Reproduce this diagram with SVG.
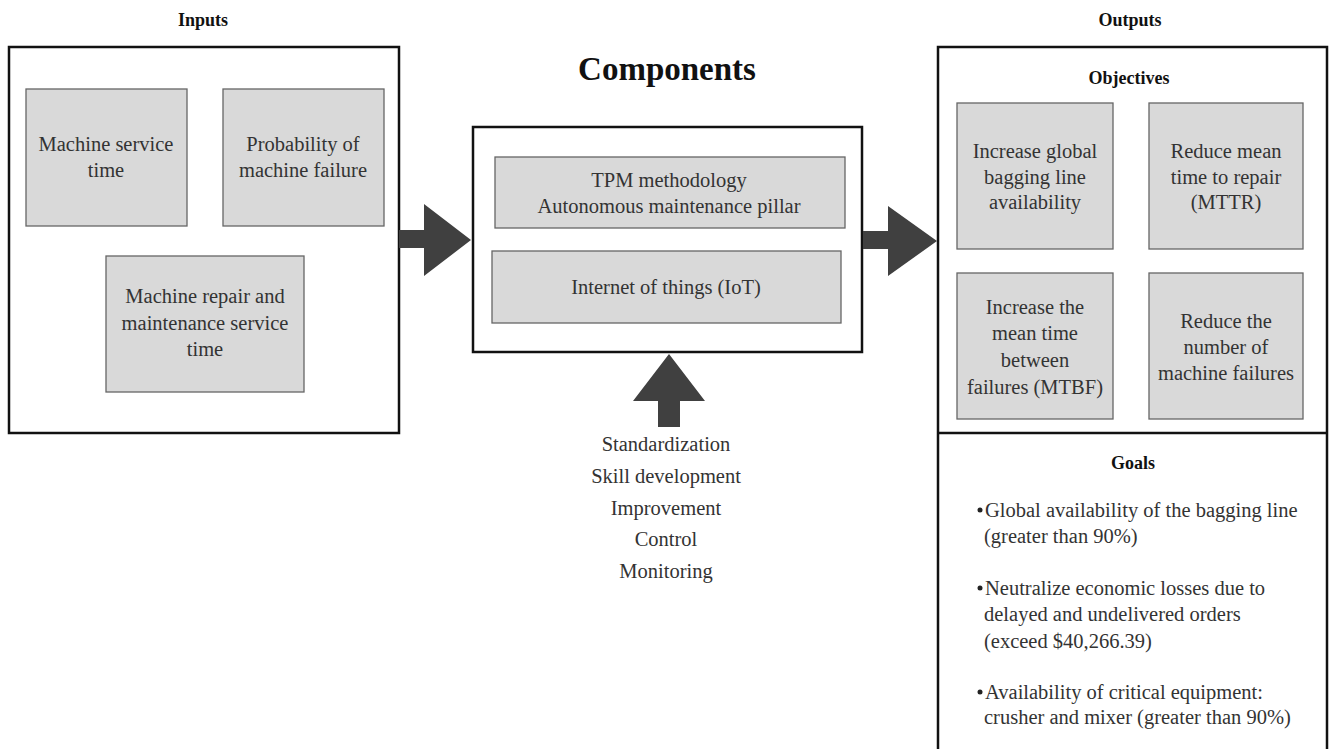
<svg xmlns="http://www.w3.org/2000/svg" width="1329" height="749" viewBox="0 0 1329 749">
<style>
text{font-family:"Liberation Serif","Times New Roman",serif;fill:#333}
.hd{font-weight:bold;font-size:18px;fill:#111;text-anchor:middle}
.title{font-weight:bold;font-size:33px;fill:#111;text-anchor:middle}
.t{font-size:20.5px;text-anchor:middle}
.g{font-size:20.5px}
.outer{fill:#fff;stroke:#111;stroke-width:2.5}
.box{fill:#d9d9d9;stroke:#666;stroke-width:1.3}
.arr{fill:#404040}
</style>
<rect width="1329" height="749" fill="#fff"/>
<g id="inputs">
<text class="hd" x="203" y="26">Inputs</text>
<rect class="outer" x="9" y="47" width="390" height="386"/>
</g>
<g id="machine-service-time">
<rect class="box" x="26" y="89" width="161" height="137"/>
<text class="t" x="106" y="151">Machine service</text>
<text class="t" x="106" y="177">time</text>
</g>
<g id="probability-failure">
<rect class="box" x="223" y="89" width="161" height="137"/>
<text class="t" x="303" y="151">Probability of</text>
<text class="t" x="303" y="177">machine failure</text>
</g>
<g id="repair-time">
<rect class="box" x="106" y="256" width="198" height="136"/>
<text class="t" x="205" y="303">Machine repair and</text>
<text class="t" x="205" y="330">maintenance service</text>
<text class="t" x="205" y="356">time</text>
</g>
<g id="components">
<text class="title" x="667" y="80">Components</text>
<rect class="outer" x="473" y="127" width="389" height="225"/>
</g>
<g id="tpm">
<rect class="box" x="495" y="157" width="350" height="71"/>
<text class="t" x="669" y="187">TPM methodology</text>
<text class="t" x="669" y="213">Autonomous maintenance pillar</text>
</g>
<g id="iot">
<rect class="box" x="492" y="251" width="349" height="72"/>
<text class="t" x="666" y="294">Internet of things (IoT)</text>
</g>
<g id="connectors">
<polygon class="arr" points="399,230 424,230 424,204 471,240 424,276 424,248 399,248"/>
<polygon class="arr" points="863,231 888,231 888,206 937,241 888,276 888,249 863,249"/>
<polygon class="arr" points="658,427 658,401 633,401 669,354 705,401 680,401 680,427"/>
</g>
<g id="practices">
<text class="t" x="666" y="451">Standardization</text>
<text class="t" x="666" y="483">Skill development</text>
<text class="t" x="666" y="515">Improvement</text>
<text class="t" x="666" y="546">Control</text>
<text class="t" x="666" y="578">Monitoring</text>
</g>
<g id="outputs">
<text class="hd" x="1130" y="26">Outputs</text>
<rect class="outer" x="938" y="47" width="389" height="720"/>
<line x1="938" y1="433" x2="1327" y2="433" stroke="#111" stroke-width="2.5"/>
<text class="hd" x="1129" y="84" font-size="20">Objectives</text>
</g>
<g id="obj-availability">
<rect class="box" x="957" y="103" width="156" height="146"/>
<text class="t" x="1035" y="158">Increase global</text>
<text class="t" x="1035" y="184">bagging line</text>
<text class="t" x="1035" y="209">availability</text>
</g>
<g id="obj-mttr">
<rect class="box" x="1149" y="103" width="154" height="146"/>
<text class="t" x="1226" y="158">Reduce mean</text>
<text class="t" x="1226" y="184">time to repair</text>
<text class="t" x="1226" y="209">(MTTR)</text>
</g>
<g id="obj-mtbf">
<rect class="box" x="957" y="273" width="156" height="146"/>
<text class="t" x="1035" y="314">Increase the</text>
<text class="t" x="1035" y="340">mean time</text>
<text class="t" x="1035" y="367">between</text>
<text class="t" x="1035" y="394">failures (MTBF)</text>
</g>
<g id="obj-failures">
<rect class="box" x="1149" y="273" width="154" height="146"/>
<text class="t" x="1226" y="328">Reduce the</text>
<text class="t" x="1226" y="354">number of</text>
<text class="t" x="1226" y="380">machine failures</text>
</g>
<g id="goals">
<text class="hd" x="1133" y="469" font-size="19">Goals</text>
<circle cx="980" cy="510" r="2.5" fill="#222"/>
<text class="g" x="985" y="517">Global availability of the bagging line</text>
<text class="g" x="984" y="543">(greater than 90%)</text>
<circle cx="980" cy="588" r="2.5" fill="#222"/>
<text class="g" x="985" y="595">Neutralize economic losses due to</text>
<text class="g" x="984" y="621">delayed and undelivered orders</text>
<text class="g" x="984" y="648">(exceed $40,266.39)</text>
<circle cx="980" cy="692" r="2.5" fill="#222"/>
<text class="g" x="985" y="699">Availability of critical equipment:</text>
<text class="g" x="984" y="724">crusher and mixer (greater than 90%)</text>
</g>
</svg>
